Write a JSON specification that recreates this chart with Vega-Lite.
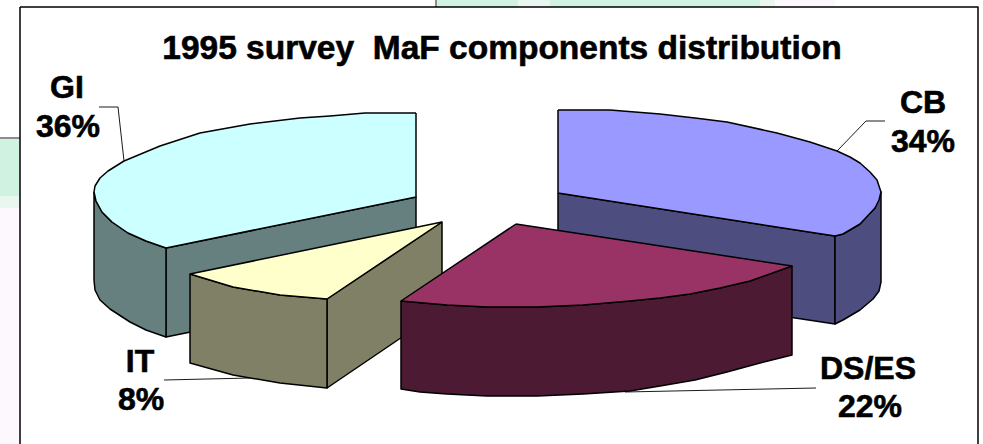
{
  "$schema": "https://vega.github.io/schema/vega-lite/v6.json",
  "width": 983,
  "height": 444,
  "padding": 0,
  "autosize": "none",
  "background": "#ffffff",
  "view": {"stroke": null},
  "datasets": {
    "wash": [
      {"tint": "green", "x": 0, "x2": 20, "y": 139, "y2": 196},
      {"tint": "fade", "x": 0, "x2": 20, "y": 196, "y2": 208},
      {"tint": "blush", "x": 0, "x2": 20, "y": 208, "y2": 444},
      {"tint": "green", "x": 437, "x2": 518, "y": 0, "y2": 7},
      {"tint": "fade", "x": 518, "x2": 550, "y": 0, "y2": 7},
      {"tint": "green", "x": 550, "x2": 760, "y": 0, "y2": 7},
      {"tint": "fade", "x": 760, "x2": 775, "y": 0, "y2": 7},
      {"tint": "blush", "x": 775, "x2": 835, "y": 0, "y2": 7}
    ],
    "faces": [
      {"face": "frame", "i": 0, "x": 20, "y": 7}, {"face": "frame", "i": 1, "x": 978, "y": 7}, {"face": "frame", "i": 2, "x": 978, "y": 450}, {"face": "frame", "i": 3, "x": 20, "y": 450}, {"face": "frame", "i": 4, "x": 20, "y": 7},

      {"face": "CB inner", "i": 0, "x": 558, "y": 193}, {"face": "CB inner", "i": 1, "x": 835, "y": 236}, {"face": "CB inner", "i": 2, "x": 835, "y": 324}, {"face": "CB inner", "i": 3, "x": 558, "y": 282}, {"face": "CB inner", "i": 4, "x": 558, "y": 193},
      {"face": "CB outer", "i": 0, "x": 835, "y": 236}, {"face": "CB outer", "i": 1, "x": 843, "y": 234}, {"face": "CB outer", "i": 2, "x": 860, "y": 224}, {"face": "CB outer", "i": 3, "x": 875, "y": 208}, {"face": "CB outer", "i": 4, "x": 881, "y": 192}, {"face": "CB outer", "i": 5, "x": 881, "y": 282}, {"face": "CB outer", "i": 6, "x": 879, "y": 291}, {"face": "CB outer", "i": 7, "x": 873, "y": 299}, {"face": "CB outer", "i": 8, "x": 860, "y": 310}, {"face": "CB outer", "i": 9, "x": 843, "y": 320}, {"face": "CB outer", "i": 10, "x": 835, "y": 324}, {"face": "CB outer", "i": 11, "x": 835, "y": 236},
      {"face": "CB top", "i": 0, "x": 558, "y": 110}, {"face": "CB top", "i": 1, "x": 610, "y": 110}, {"face": "CB top", "i": 2, "x": 635, "y": 112}, {"face": "CB top", "i": 3, "x": 660, "y": 114}, {"face": "CB top", "i": 4, "x": 695, "y": 118}, {"face": "CB top", "i": 5, "x": 727, "y": 122}, {"face": "CB top", "i": 6, "x": 777, "y": 133}, {"face": "CB top", "i": 7, "x": 810, "y": 142}, {"face": "CB top", "i": 8, "x": 837, "y": 151}, {"face": "CB top", "i": 9, "x": 850, "y": 157}, {"face": "CB top", "i": 10, "x": 860, "y": 163}, {"face": "CB top", "i": 11, "x": 870, "y": 172}, {"face": "CB top", "i": 12, "x": 877, "y": 180}, {"face": "CB top", "i": 13, "x": 881, "y": 192}, {"face": "CB top", "i": 14, "x": 879, "y": 200}, {"face": "CB top", "i": 15, "x": 875, "y": 208}, {"face": "CB top", "i": 16, "x": 860, "y": 224}, {"face": "CB top", "i": 17, "x": 843, "y": 234}, {"face": "CB top", "i": 18, "x": 835, "y": 236}, {"face": "CB top", "i": 19, "x": 558, "y": 193}, {"face": "CB top", "i": 20, "x": 558, "y": 110},

      {"face": "GI inner", "i": 0, "x": 166, "y": 248}, {"face": "GI inner", "i": 1, "x": 416, "y": 197}, {"face": "GI inner", "i": 2, "x": 416, "y": 286}, {"face": "GI inner", "i": 3, "x": 166, "y": 337}, {"face": "GI inner", "i": 4, "x": 166, "y": 248},
      {"face": "GI outer", "i": 0, "x": 94, "y": 192}, {"face": "GI outer", "i": 1, "x": 96, "y": 201}, {"face": "GI outer", "i": 2, "x": 102, "y": 212}, {"face": "GI outer", "i": 3, "x": 112, "y": 222}, {"face": "GI outer", "i": 4, "x": 128, "y": 233}, {"face": "GI outer", "i": 5, "x": 146, "y": 241}, {"face": "GI outer", "i": 6, "x": 166, "y": 248}, {"face": "GI outer", "i": 7, "x": 166, "y": 337}, {"face": "GI outer", "i": 8, "x": 146, "y": 330}, {"face": "GI outer", "i": 9, "x": 130, "y": 322}, {"face": "GI outer", "i": 10, "x": 110, "y": 309}, {"face": "GI outer", "i": 11, "x": 100, "y": 300}, {"face": "GI outer", "i": 12, "x": 95, "y": 290}, {"face": "GI outer", "i": 13, "x": 94, "y": 280}, {"face": "GI outer", "i": 14, "x": 94, "y": 192},
      {"face": "GI top", "i": 0, "x": 416, "y": 113}, {"face": "GI top", "i": 1, "x": 365, "y": 113}, {"face": "GI top", "i": 2, "x": 330, "y": 116}, {"face": "GI top", "i": 3, "x": 300, "y": 118}, {"face": "GI top", "i": 4, "x": 250, "y": 124}, {"face": "GI top", "i": 5, "x": 200, "y": 133}, {"face": "GI top", "i": 6, "x": 160, "y": 146}, {"face": "GI top", "i": 7, "x": 124, "y": 161}, {"face": "GI top", "i": 8, "x": 108, "y": 171}, {"face": "GI top", "i": 9, "x": 100, "y": 178}, {"face": "GI top", "i": 10, "x": 95, "y": 186}, {"face": "GI top", "i": 11, "x": 94, "y": 192}, {"face": "GI top", "i": 12, "x": 96, "y": 201}, {"face": "GI top", "i": 13, "x": 102, "y": 212}, {"face": "GI top", "i": 14, "x": 112, "y": 222}, {"face": "GI top", "i": 15, "x": 128, "y": 233}, {"face": "GI top", "i": 16, "x": 146, "y": 241}, {"face": "GI top", "i": 17, "x": 166, "y": 248}, {"face": "GI top", "i": 18, "x": 416, "y": 197}, {"face": "GI top", "i": 19, "x": 416, "y": 113},

      {"face": "IT inner", "i": 0, "x": 327, "y": 299}, {"face": "IT inner", "i": 1, "x": 442, "y": 222}, {"face": "IT inner", "i": 2, "x": 442, "y": 310}, {"face": "IT inner", "i": 3, "x": 327, "y": 388}, {"face": "IT inner", "i": 4, "x": 327, "y": 299},
      {"face": "IT outer", "i": 0, "x": 190, "y": 274}, {"face": "IT outer", "i": 1, "x": 233, "y": 287}, {"face": "IT outer", "i": 2, "x": 280, "y": 295}, {"face": "IT outer", "i": 3, "x": 327, "y": 299}, {"face": "IT outer", "i": 4, "x": 327, "y": 388}, {"face": "IT outer", "i": 5, "x": 280, "y": 383}, {"face": "IT outer", "i": 6, "x": 233, "y": 375}, {"face": "IT outer", "i": 7, "x": 190, "y": 363}, {"face": "IT outer", "i": 8, "x": 190, "y": 274},
      {"face": "IT top", "i": 0, "x": 442, "y": 222}, {"face": "IT top", "i": 1, "x": 190, "y": 274}, {"face": "IT top", "i": 2, "x": 233, "y": 287}, {"face": "IT top", "i": 3, "x": 280, "y": 295}, {"face": "IT top", "i": 4, "x": 327, "y": 299}, {"face": "IT top", "i": 5, "x": 442, "y": 222},

      {"face": "DS outer", "i": 0, "x": 401, "y": 301}, {"face": "DS outer", "i": 1, "x": 447, "y": 305}, {"face": "DS outer", "i": 2, "x": 487, "y": 307}, {"face": "DS outer", "i": 3, "x": 537, "y": 307}, {"face": "DS outer", "i": 4, "x": 583, "y": 305}, {"face": "DS outer", "i": 5, "x": 630, "y": 301}, {"face": "DS outer", "i": 6, "x": 660, "y": 298}, {"face": "DS outer", "i": 7, "x": 690, "y": 294}, {"face": "DS outer", "i": 8, "x": 720, "y": 288}, {"face": "DS outer", "i": 9, "x": 750, "y": 281}, {"face": "DS outer", "i": 10, "x": 792, "y": 266}, {"face": "DS outer", "i": 11, "x": 792, "y": 355}, {"face": "DS outer", "i": 12, "x": 760, "y": 363}, {"face": "DS outer", "i": 13, "x": 727, "y": 372}, {"face": "DS outer", "i": 14, "x": 695, "y": 380}, {"face": "DS outer", "i": 15, "x": 660, "y": 386}, {"face": "DS outer", "i": 16, "x": 630, "y": 391}, {"face": "DS outer", "i": 17, "x": 583, "y": 394}, {"face": "DS outer", "i": 18, "x": 537, "y": 396}, {"face": "DS outer", "i": 19, "x": 487, "y": 396}, {"face": "DS outer", "i": 20, "x": 447, "y": 394}, {"face": "DS outer", "i": 21, "x": 420, "y": 392}, {"face": "DS outer", "i": 22, "x": 401, "y": 389}, {"face": "DS outer", "i": 23, "x": 401, "y": 301},
      {"face": "DS top", "i": 0, "x": 516, "y": 224}, {"face": "DS top", "i": 1, "x": 401, "y": 301}, {"face": "DS top", "i": 2, "x": 447, "y": 305}, {"face": "DS top", "i": 3, "x": 487, "y": 307}, {"face": "DS top", "i": 4, "x": 537, "y": 307}, {"face": "DS top", "i": 5, "x": 583, "y": 305}, {"face": "DS top", "i": 6, "x": 630, "y": 301}, {"face": "DS top", "i": 7, "x": 660, "y": 298}, {"face": "DS top", "i": 8, "x": 690, "y": 294}, {"face": "DS top", "i": 9, "x": 720, "y": 288}, {"face": "DS top", "i": 10, "x": 750, "y": 281}, {"face": "DS top", "i": 11, "x": 792, "y": 266}, {"face": "DS top", "i": 12, "x": 516, "y": 224}
    ],
    "leaders": [
      {"slice": "GI", "i": 0, "x": 99, "y": 107}, {"slice": "GI", "i": 1, "x": 118, "y": 107}, {"slice": "GI", "i": 2, "x": 124, "y": 161},
      {"slice": "CB", "i": 0, "x": 885, "y": 121}, {"slice": "CB", "i": 1, "x": 866, "y": 121}, {"slice": "CB", "i": 2, "x": 837, "y": 151},
      {"slice": "IT", "i": 0, "x": 164, "y": 380}, {"slice": "IT", "i": 1, "x": 250, "y": 378},
      {"slice": "DS/ES", "i": 0, "x": 816, "y": 388}, {"slice": "DS/ES", "i": 1, "x": 625, "y": 392},
      {"slice": "backdrop left", "i": 0, "x": 0, "y": 138}, {"slice": "backdrop left", "i": 1, "x": 20, "y": 138},
      {"slice": "backdrop top", "i": 0, "x": 436, "y": 0}, {"slice": "backdrop top", "i": 1, "x": 436, "y": 7}
    ],
    "labels": [
      {"text": "GI", "x": 67, "y": 98},
      {"text": "36%", "x": 68, "y": 137},
      {"text": "CB", "x": 923, "y": 113},
      {"text": "34%", "x": 923, "y": 152},
      {"text": "IT", "x": 140, "y": 372},
      {"text": "8%", "x": 141, "y": 410},
      {"text": "DS/ES", "x": 868, "y": 379},
      {"text": "22%", "x": 870, "y": 417}
    ]
  },
  "layer": [
    {
      "data": {"name": "wash"},
      "mark": {"type": "rect"},
      "encoding": {
        "x": {"field": "x", "type": "quantitative", "scale": {"domain": [0, 983], "nice": false, "zero": false}, "axis": null},
        "x2": {"field": "x2"},
        "y": {"field": "y", "type": "quantitative", "scale": {"domain": [444, 0], "nice": false, "zero": false}, "axis": null},
        "y2": {"field": "y2"},
        "color": {"field": "tint", "type": "nominal", "legend": null, "scale": {"domain": ["green", "fade", "blush"], "range": ["#cff3e0", "#eaf6f0", "#fdf8fd"]}}
      }
    },
    {
      "data": {"name": "faces"},
      "mark": {"type": "line", "stroke": "#000000", "strokeWidth": 1.5, "strokeJoin": "round"},
      "encoding": {
        "x": {"field": "x", "type": "quantitative", "axis": null},
        "y": {"field": "y", "type": "quantitative", "axis": null},
        "order": {"field": "i", "type": "quantitative"},
        "fill": {
          "field": "face", "type": "nominal", "legend": null,
          "scale": {
            "domain": ["frame", "CB inner", "CB outer", "CB top", "GI inner", "GI outer", "GI top", "IT inner", "IT outer", "IT top", "DS outer", "DS top"],
            "range": ["#ffffff", "#4d4d80", "#4d4d80", "#9999ff", "#668080", "#668080", "#ccffff", "#808066", "#808066", "#ffffcc", "#4d1a33", "#993366"]
          }
        }
      }
    },
    {
      "data": {"name": "leaders"},
      "mark": {"type": "line", "stroke": "#000000", "strokeWidth": 0.9},
      "encoding": {
        "x": {"field": "x", "type": "quantitative", "axis": null},
        "y": {"field": "y", "type": "quantitative", "axis": null},
        "order": {"field": "i", "type": "quantitative"},
        "detail": {"field": "slice", "type": "nominal"}
      }
    },
    {
      "data": {"name": "labels"},
      "mark": {"type": "text", "align": "center", "baseline": "alphabetic", "font": "Liberation Sans", "fontWeight": "bold", "fontSize": 32, "fill": "#000000", "stroke": "#000000", "strokeWidth": 0.6},
      "encoding": {
        "x": {"field": "x", "type": "quantitative", "axis": null},
        "y": {"field": "y", "type": "quantitative", "axis": null},
        "text": {"field": "text", "type": "nominal"}
      }
    },
    {
      "data": {"values": [{"text": "1995 survey \u00a0MaF components distribution", "x": 502, "y": 59}]},
      "mark": {"type": "text", "align": "center", "baseline": "alphabetic", "font": "Liberation Sans", "fontWeight": "bold", "fontSize": 33.5, "fill": "#000000", "stroke": "#000000", "strokeWidth": 0.6},
      "encoding": {
        "x": {"field": "x", "type": "quantitative", "axis": null},
        "y": {"field": "y", "type": "quantitative", "axis": null},
        "text": {"field": "text", "type": "nominal"}
      }
    }
  ],
  "resolve": {"scale": {"color": "independent", "fill": "independent"}}
}
